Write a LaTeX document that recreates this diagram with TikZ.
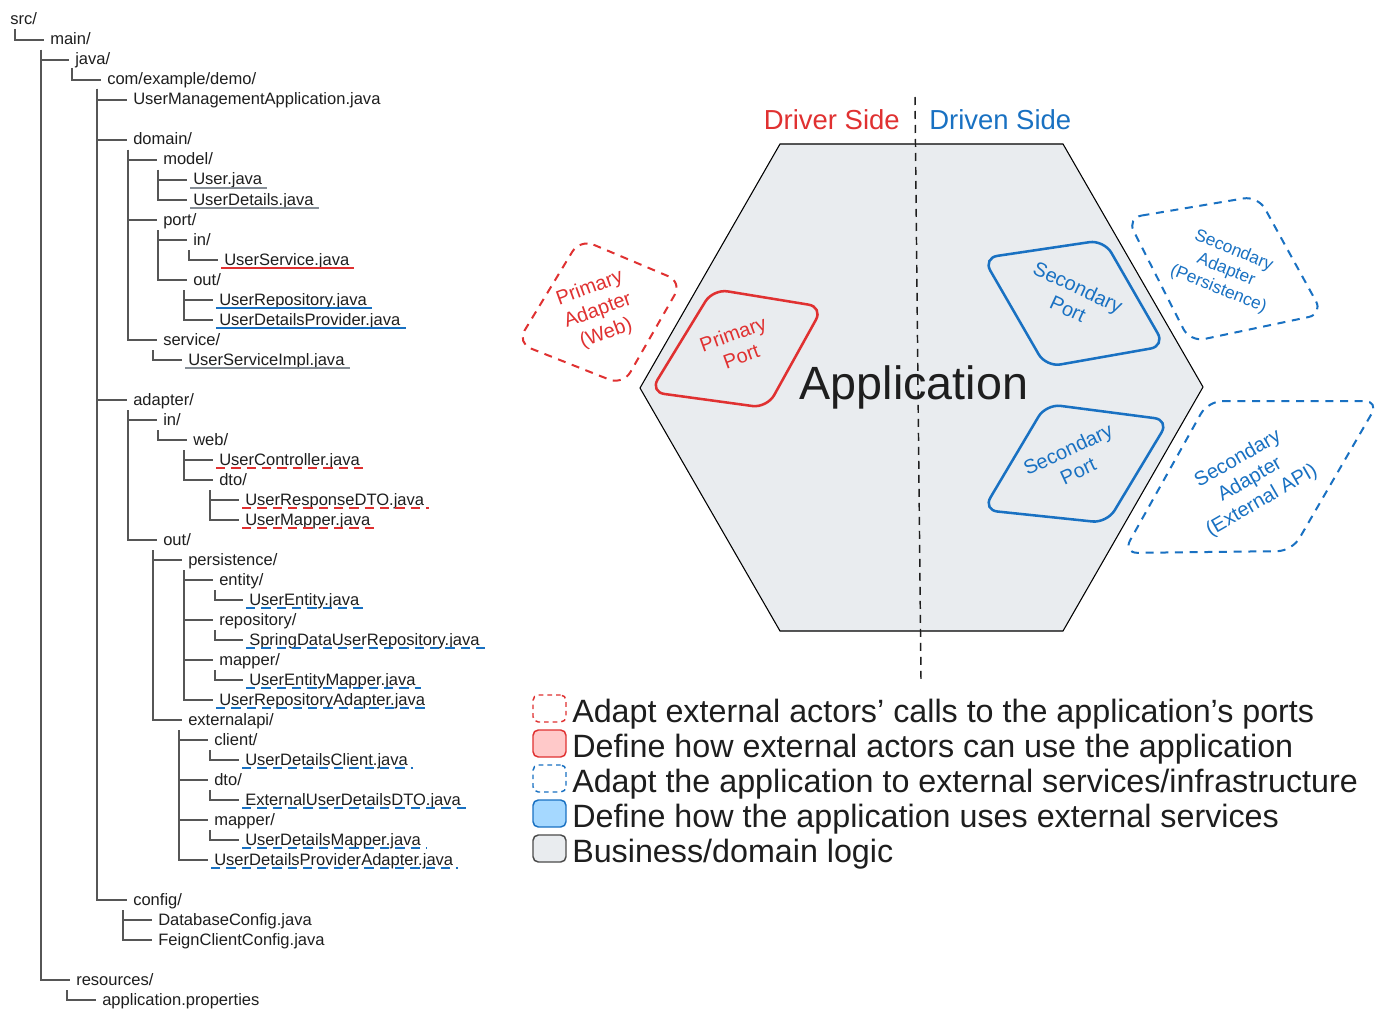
\documentclass[tikz,border=0pt]{standalone}
\usepackage{fontspec}
\setmainfont{Liberation Sans}
\definecolor{exred}{HTML}{E03131}
\definecolor{exblue}{HTML}{1971C2}
\definecolor{exgray}{HTML}{868E96}
\definecolor{hexfill}{HTML}{E9ECEF}
\definecolor{lred}{HTML}{FFC9C9}
\definecolor{lblue}{HTML}{A5D8FF}
\definecolor{ink}{HTML}{1E1E1E}
\newcommand\treebranch[3]{\foreach \c in {#3} {\draw[treeline] (#1,#2) |- ([shift={(-6,-5)}]\c.base west);}}
\newcommand\uline[2]{\draw[#1] ([shift={(-3,3)}]#2.base west) -- ([shift={(5,3)}]#2.base east);}
\begin{document}
\begin{tikzpicture}[x=0.75pt,y=-0.75pt,
 tt/.style={anchor=base west,inner sep=0,font=\fontsize{12.4}{14}\selectfont,text=ink},
 treeline/.style={draw=ink!75,line width=0.9pt},
 ulgray/.style={draw=exgray,line width=1.4pt},
 ulred/.style={draw=exred,line width=1.4pt},
 ulblue/.style={draw=exblue,line width=1.4pt},
 ulreddash/.style={draw=exred,line width=1.2pt,dash pattern=on 7pt off 4.5pt},
 ulbluedash/.style={draw=exblue,line width=1.2pt,dash pattern=on 7pt off 4.5pt},
 portred/.style={draw=exred,line width=1.9pt,rounded corners=11pt},
 portblue/.style={draw=exblue,line width=1.9pt,rounded corners=11pt},
 adred/.style={draw=exred,line width=1.5pt,rounded corners=11pt,dash pattern=on 6pt off 5pt},
 adblue/.style={draw=exblue,line width=1.5pt,rounded corners=11pt,dash pattern=on 6pt off 5pt},
 lbl/.style={align=center,inner sep=0,font=\fontsize{15}{18}\selectfont},
 lblsmall/.style={align=center,inner sep=0,font=\fontsize{13}{15.5}\selectfont},
 legbox/.style={rectangle,rounded corners=4pt,minimum width=24.75pt,minimum height=20.25pt,inner sep=0,line width=1.1pt},
 legtext/.style={anchor=base west,inner sep=0,font=\fontsize{24.2}{26}\selectfont,text=ink},
 side/.style={inner sep=0,font=\fontsize{20.6}{22}\selectfont}
]
\fill[white] (0,0) rectangle (1395,1020);
\useasboundingbox (0,0) rectangle (1395,1020);

% ---------------- file tree ----------------
\node[tt] (src) at (10,25) {src/};
\node[tt] (main) at (50,45) {main/};
\node[tt] (java) at (75,65) {java/};
\node[tt] (com) at (107,85) {com/example/demo/};
\node[tt] (uma) at (133,105) {UserManagementApplication.java};
\node[tt] (domain) at (133,145) {domain/};
\node[tt] (model) at (163,165) {model/};
\node[tt] (user) at (193,185) {User.java};
\node[tt] (userdetails) at (193,205) {UserDetails.java};
\node[tt] (port) at (163,225) {port/};
\node[tt] (portin) at (193,245) {in/};
\node[tt] (userservice) at (224,265) {UserService.java};
\node[tt] (portout) at (193,285) {out/};
\node[tt] (userrepo) at (219,305) {UserRepository.java};
\node[tt] (udprovider) at (219,325) {UserDetailsProvider.java};
\node[tt] (service) at (163,345) {service/};
\node[tt] (usimpl) at (188,365) {UserServiceImpl.java};
\node[tt] (adapter) at (133,405) {adapter/};
\node[tt] (adin) at (163,425) {in/};
\node[tt] (web) at (193,445) {web/};
\node[tt] (uctrl) at (219,465) {UserController.java};
\node[tt] (webdto) at (219,485) {dto/};
\node[tt] (urdto) at (245,505) {UserResponseDTO.java};
\node[tt] (umapper) at (245,525) {UserMapper.java};
\node[tt] (adout) at (163,545) {out/};
\node[tt] (persist) at (188,565) {persistence/};
\node[tt] (entity) at (219,585) {entity/};
\node[tt] (uentity) at (249,605) {UserEntity.java};
\node[tt] (repository) at (219,625) {repository/};
\node[tt] (sdur) at (249,645) {SpringDataUserRepository.java};
\node[tt] (pmapper) at (219,665) {mapper/};
\node[tt] (uemapper) at (249,685) {UserEntityMapper.java};
\node[tt] (urepoad) at (219,705) {UserRepositoryAdapter.java};
\node[tt] (extapi) at (188,725) {externalapi/};
\node[tt] (client) at (214,745) {client/};
\node[tt] (udclient) at (245,765) {UserDetailsClient.java};
\node[tt] (extdto) at (214,785) {dto/};
\node[tt] (eudto) at (245,805) {ExternalUserDetailsDTO.java};
\node[tt] (extmapper) at (214,825) {mapper/};
\node[tt] (udmapper) at (245,845) {UserDetailsMapper.java};
\node[tt] (udpa) at (214,865) {UserDetailsProviderAdapter.java};
\node[tt] (config) at (133,905) {config/};
\node[tt] (dbconf) at (158,925) {DatabaseConfig.java};
\node[tt] (feign) at (158,945) {FeignClientConfig.java};
\node[tt] (resources) at (76,985) {resources/};
\node[tt] (appprops) at (102,1005) {application.properties};

\treebranch{15}{29}{main}
\treebranch{41}{50}{java,resources}
\treebranch{72}{68}{com}
\treebranch{97}{89}{uma,domain,adapter,config}
\treebranch{128}{150}{model,port,service}
\treebranch{158}{170}{user,userdetails}
\treebranch{158}{230}{portin,portout}
\treebranch{189}{250}{userservice}
\treebranch{184}{290}{userrepo,udprovider}
\treebranch{153}{350}{usimpl}
\treebranch{128}{410}{adin,adout}
\treebranch{158}{430}{web}
\treebranch{184}{450}{uctrl,webdto}
\treebranch{210}{490}{urdto,umapper}
\treebranch{153}{550}{persist,extapi}
\treebranch{184}{570}{entity,repository,pmapper,urepoad}
\treebranch{215}{590}{uentity}
\treebranch{215}{630}{sdur}
\treebranch{215}{670}{uemapper}
\treebranch{179}{730}{client,extdto,extmapper,udpa}
\treebranch{210}{750}{udclient}
\treebranch{210}{790}{eudto}
\treebranch{210}{830}{udmapper}
\treebranch{123}{910}{dbconf,feign}
\treebranch{67}{990}{appprops}

\uline{ulgray}{user}
\uline{ulgray}{userdetails}
\uline{ulred}{userservice}
\uline{ulblue}{userrepo}
\uline{ulblue}{udprovider}
\uline{ulgray}{usimpl}
\uline{ulreddash}{uctrl}
\uline{ulreddash}{urdto}
\uline{ulreddash}{umapper}
\uline{ulbluedash}{uentity}
\uline{ulbluedash}{sdur}
\uline{ulbluedash}{uemapper}
\uline{ulbluedash}{urepoad}
\uline{ulbluedash}{udclient}
\uline{ulbluedash}{eudto}
\uline{ulbluedash}{udmapper}
\uline{ulbluedash}{udpa}

% ---------------- hexagon ----------------
\filldraw[fill=hexfill,draw=black,line width=0.8pt]
  (780,144) -- (1063,144) -- (1203,387) -- (1063,631) -- (780,631) -- (640,388) -- cycle;

\node[side,text=exred,anchor=base east] (driver) at (900,130) {Driver Side};
\node[side,text=exblue,anchor=base west] (driven) at (929,130) {Driven Side};
\node[inner sep=0,anchor=base,font=\fontsize{35}{38}\selectfont,text=ink] (app) at (914,399) {Application};

\coordinate (dtop) at (915,97);
\coordinate (dbot) at (921,680);
\draw[ink,line width=1.1pt,dash pattern=on 6pt off 4.5pt] (dtop) -- (dbot);

% primary adapter / port
\draw[adred] (580,239) -- (682,282) -- (623,385) -- (517,343) -- cycle;
\node[lbl,text=exred,rotate=20] (padapter) at (598,311) {Primary\\Adapter\\(Web)};
\draw[portred] (713,289) -- (823,307) -- (767,408) -- (650,392) -- cycle;
\node[lbl,text=exred,rotate=20] (pport) at (737,345) {Primary\\Port};

% secondary port / adapter (persistence)
\draw[portblue] (983,258) -- (1104,240) -- (1165,346) -- (1046,367) -- cycle;
\node[lbl,text=exblue,rotate=-25] (sport1) at (1073,298) {Secondary\\Port};
\draw[adblue] (1127,218) -- (1258,196) -- (1323,314) -- (1190,342) -- cycle;
\node[lblsmall,text=exblue,rotate=-22] (sadapter1) at (1226,270) {Secondary\\Adapter\\(Persistence)};

% secondary port / adapter (external api)
\draw[portblue] (1046,404) -- (1169,420) -- (1107,523) -- (983,510) -- cycle;
\node[lbl,text=exblue,rotate=25] (sport2) at (1073,460) {Secondary\\Port};
\draw[adblue] (1208,401) -- (1379,401) -- (1292,551) -- (1123,553) -- cycle;
\node[lbl,text=exblue,rotate=30] (sadapter2) at (1250,480) {Secondary\\Adapter\\(External API)};

% ---------------- legend ----------------
\node[legbox,draw=exred,dash pattern=on 3.5pt off 3pt] (lg1) at (549.5,708.5) {};
\node[legbox,draw=exred,fill=lred] (lg2) at (549.5,743.5) {};
\node[legbox,draw=exblue,dash pattern=on 3.5pt off 3pt] (lg3) at (549.5,778.5) {};
\node[legbox,draw=exblue,fill=lblue] (lg4) at (549.5,813.5) {};
\node[legbox,draw=ink!80,fill=hexfill] (lg5) at (549.5,848.5) {};
\node[legtext] (lt1) at (572,722) {Adapt external actors' calls to the application's ports};
\node[legtext] (lt2) at (572,757) {Define how external actors can use the application};
\node[legtext] (lt3) at (572,792) {Adapt the application to external services/infrastructure};
\node[legtext] (lt4) at (572,827) {Define how the application uses external services};
\node[legtext] (lt5) at (572,862) {Business/domain logic};
\end{tikzpicture}
\end{document}
